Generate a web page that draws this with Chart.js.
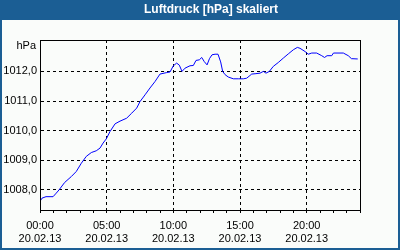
<!DOCTYPE html>
<html>
<head>
<meta charset="utf-8">
<script src="https://cdn.jsdelivr.net/npm/chart.js@4"></script>
<style>
  html, body { margin: 0; padding: 0; background: #fafcfa; }
  canvas { display: block; }
</style>
</head>
<body>
<canvas id="myChart" width="400" height="250"></canvas>
<script>
const chartTitle = "Luftdruck [hPa] skaliert";
const unitLabel = "hPa";
const dateLabel = "20.02.13";

// Zeit in Stunden ab 00:00
const hours = [0.00, 0.15, 0.45, 0.98, 1.22, 1.43, 1.85, 2.35, 2.72, 3.10, 3.47, 3.85, 4.22, 4.50, 4.73,
  4.97, 5.25, 5.63, 6.00, 6.50, 6.88, 7.25, 7.50, 7.88, 8.25, 8.63, 9.00, 9.50, 9.75, 10.00,
  10.25, 10.45, 10.65, 10.88, 11.25, 11.50, 11.70, 11.95, 12.13, 12.32, 12.53, 12.71, 12.90, 13.13, 13.35,
  13.55, 13.70, 13.88, 14.12, 14.50, 14.87, 15.25, 15.50, 15.88, 16.13, 16.50, 16.75, 16.95, 17.20, 17.50,
  17.87, 18.25, 18.62, 19.00, 19.30, 19.50, 19.88, 20.12, 20.38, 20.75, 21.13, 21.34, 21.53, 21.88, 22.01,
  22.75, 23.12, 23.36, 23.83];
const pressure = [1007.61, 1007.72, 1007.77, 1007.77, 1007.89, 1008.00, 1008.25, 1008.45, 1008.62, 1008.90,
  1009.13, 1009.26, 1009.32, 1009.41, 1009.58, 1009.72, 1009.97, 1010.23, 1010.32, 1010.42,
  1010.59, 1010.76, 1010.98, 1011.21, 1011.44, 1011.66, 1011.91, 1011.96, 1011.98, 1012.19,
  1012.28, 1012.21, 1012.00, 1012.11, 1012.19, 1012.20, 1012.37, 1012.39, 1012.47, 1012.33,
  1012.22, 1012.43, 1012.56, 1012.58, 1012.58, 1012.32, 1012.00, 1011.89, 1011.81, 1011.75,
  1011.75, 1011.75, 1011.77, 1011.91, 1011.92, 1011.94, 1012.00, 1011.94, 1012.00, 1012.17,
  1012.30, 1012.45, 1012.59, 1012.73, 1012.81, 1012.78, 1012.67, 1012.58, 1012.62, 1012.62,
  1012.53, 1012.47, 1012.53, 1012.53, 1012.62, 1012.62, 1012.53, 1012.43, 1012.42];

const yTicks = [1008, 1009, 1010, 1011, 1012];
const xTicks = [0, 1, 2, 3, 4, 5, 6, 7, 8, 9, 10, 11, 12, 13, 14, 15, 16, 17, 18, 19, 20, 21, 22, 23, 24];
const xLabelEvery = 5;

const fontFamily = "'Liberation Sans', Arial, sans-serif";

const frame = {
  id: "frame",
  beforeDraw(chart) {
    const { ctx, width, height } = chart;
    ctx.save();
    ctx.fillStyle = "#fafcfa";
    ctx.fillRect(0, 0, width, height);
    ctx.fillStyle = "#1b5e94";
    ctx.fillRect(0, 0, width, 20);
    ctx.fillRect(0, 0, 2, height);
    ctx.fillRect(width - 2, 0, 2, height);
    ctx.fillRect(0, height - 2, width, 2);
    ctx.fillStyle = "#ffffff";
    ctx.font = "bold 12px " + fontFamily;
    ctx.textAlign = "center";
    ctx.textBaseline = "middle";
    ctx.fillText(chartTitle, 211, 10);
    ctx.restore();
  },
  afterDraw(chart) {
    const { ctx, chartArea: a } = chart;
    ctx.save();
    ctx.strokeStyle = "#000";
    ctx.lineWidth = 1;
    ctx.setLineDash([]);
    ctx.strokeRect(a.left + 0.5, a.top + 0.5, a.right - a.left, a.bottom - a.top);
    ctx.fillStyle = "#000";
    ctx.font = "11px " + fontFamily;
    ctx.textAlign = "right";
    ctx.textBaseline = "middle";
    ctx.fillText(unitLabel, a.left - 4, a.top + 6);
    ctx.restore();
  },
};

const ctx = document.getElementById("myChart").getContext("2d");
const pressureChart = new Chart(ctx, {
  type: "line",
  data: {
    datasets: [
      {
        data: hours.map((h, i) => ({ x: h, y: pressure[i] })),
        borderColor: "#0000ff",
        borderWidth: 1,
        pointRadius: 0,
        tension: 0,
        fill: false,
      },
    ],
  },
  options: {
    responsive: false,
    animation: false,
    layout: { padding: { left: 0, right: 40, top: 40, bottom: 0 } },
    plugins: { legend: { display: false }, tooltip: { enabled: false } },
    scales: {
      x: {
        type: "linear",
        min: 0,
        max: 24,
        afterBuildTicks: (s) => { s.ticks = xTicks.map((v) => ({ value: v })); },
        afterFit: (s) => { s.height = 40; },
        ticks: {
          color: "#000",
          font: { family: fontFamily, size: 11 },
          padding: 6,
          maxRotation: 0,
          autoSkip: false,
          callback: (v) => (v % xLabelEvery === 0 ? [String(v).padStart(2, "0") + ":00", dateLabel] : ""),
        },
        grid: {
          color: (c) => (c.tick && c.tick.value % xLabelEvery === 0 ? "#000" : "rgba(0,0,0,0)"),
          tickColor: "#000",
          tickLength: 3,
        },
        border: { color: "#000", dash: [3, 3] },
      },
      y: {
        min: 1007.32,
        max: 1013.06,
        afterBuildTicks: (s) => { s.ticks = yTicks.map((v) => ({ value: v })); },
        afterFit: (s) => { s.width = 40; },
        ticks: {
          color: "#000",
          font: { family: fontFamily, size: 11 },
          padding: 3,
          callback: (v) => v.toFixed(1).replace(".", ","),
        },
        grid: { color: "#000", drawTicks: false },
        border: { color: "#000", dash: [3, 3] },
      },
    },
  },
  plugins: [frame],
});
</script>
</body>
</html>
